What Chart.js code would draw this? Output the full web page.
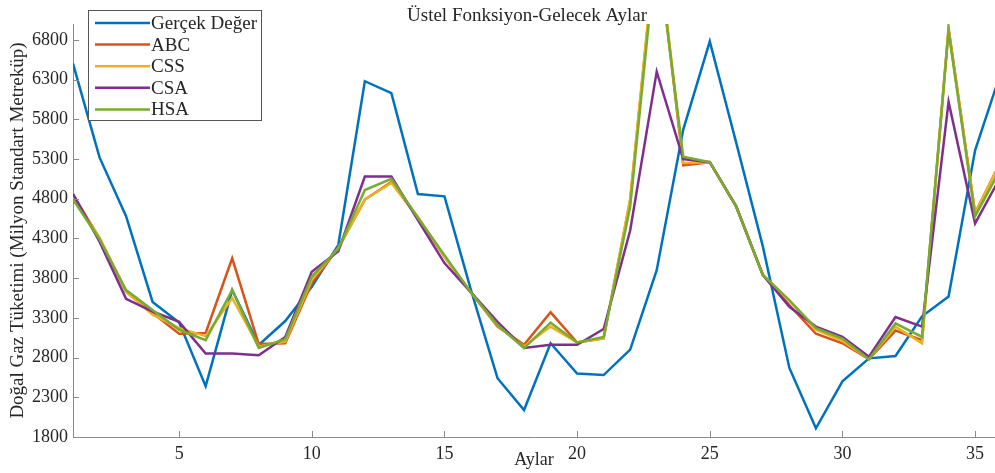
<!DOCTYPE html>
<html>
<head>
<meta charset="utf-8">
<script src="https://cdn.jsdelivr.net/npm/chart.js@4.4.1/dist/chart.umd.min.js"></script>
<style>
html, body { margin: 0; padding: 0; background: #fff; }
#wrap { width: 995px; height: 473px; }
</style>
</head>
<body>
<div id="wrap"><canvas id="gazChart" width="995" height="473"></canvas></div>
<script>
const FONT = '"Liberation Serif", "Times New Roman", serif';
const TEXT = '#262626';
const AXIS = '#8a8a8a';

const months = [1, 2, 3, 4, 5, 6, 7, 8, 9, 10, 11, 12, 13, 14, 15, 16, 17, 18,
                19, 20, 21, 22, 23, 24, 25, 26, 27, 28, 29, 30, 31, 32, 33, 34, 35, 36];

const gercekDeger = [6500, 5320, 4580, 3500, 3240, 2440, 3650, 2960, 3260, 3690, 4220, 6280,
                     6130, 4860, 4830, 3650, 2540, 2140, 2980, 2600, 2580, 2900, 3900, 5670,
                     6780, 5500, 4200, 2670, 1910, 2500, 2790, 2820, 3320, 3570, 5410, 6420];
const abc = [4850, 4300, 3630, 3360, 3100, 3110, 4050, 2970, 2980, 3740, 4180, 4790,
             5010, 4560, 4070, 3620, 3190, 2960, 3370, 2990, 3040, 4780, 8100, 5220,
             5260, 4700, 3840, 3460, 3100, 2980, 2780, 3140, 3020, 6950, 4620, 5290];
const css = [4820, 4310, 3630, 3340, 3170, 3070, 3550, 2940, 3000, 3780, 4180, 4790,
             5000, 4570, 4070, 3620, 3200, 2940, 3190, 2990, 3040, 4800, 8150, 5250,
             5260, 4700, 3840, 3520, 3150, 3010, 2780, 3190, 2980, 6930, 4620, 5290];
const csa = [4860, 4260, 3540, 3380, 3250, 2850, 2850, 2830, 3060, 3880, 4140, 5080,
             5080, 4530, 3990, 3620, 3250, 2920, 2960, 2960, 3160, 4400, 6400, 5300,
             5260, 4700, 3840, 3440, 3190, 3060, 2810, 3310, 3190, 6020, 4490, 5100];
const hsa = [4790, 4290, 3650, 3400, 3150, 3020, 3650, 2920, 3030, 3820, 4170, 4910,
             5050, 4560, 4090, 3620, 3210, 2920, 3240, 2990, 3060, 4700, 8000, 5330,
             5260, 4700, 3840, 3520, 3170, 3040, 2780, 3230, 3060, 6910, 4580, 5200];

const seriesNames = ['Gerçek Değer', 'ABC', 'CSS', 'CSA', 'HSA'];
const seriesColors = ['#0072BD', '#D95319', '#EDB120', '#7E2F8E', '#77AC30'];
const seriesValues = [gercekDeger, abc, css, csa, hsa];

const yTicks = [1800, 2300, 2800, 3300, 3800, 4300, 4800, 5300, 5800, 6300, 6800];
const xTicks = [5, 10, 15, 20, 25, 30, 35];

function toPoints(values) {
    return months.map((m, i) => ({ x: m, y: values[i] }));
}

const datasets = seriesValues.map((vals, i) => ({
    label: seriesNames[i],
    data: toPoints(vals),
    borderColor: seriesColors[i],
    backgroundColor: seriesColors[i],
    borderWidth: 2.5,
    pointRadius: 0,
    tension: 0,
    order: seriesValues.length - i // later series drawn on top
}));

// inward tick marks, title and boxed legend over the plot
const matlabDecor = {
    id: 'matlabDecor',
    afterDraw(chart) {
        const ctx = chart.ctx;
        const { left, bottom } = chart.chartArea;
        const xs = chart.scales.x, ys = chart.scales.y;
        ctx.save();
        ctx.strokeStyle = AXIS;
        ctx.lineWidth = 1;
        ctx.beginPath();
        xs.ticks.forEach(t => {
            const px = Math.round(xs.getPixelForValue(t.value)) + 0.5;
            ctx.moveTo(px, bottom);
            ctx.lineTo(px, bottom - 6);
        });
        ys.ticks.forEach(t => {
            const py = Math.round(ys.getPixelForValue(t.value)) + 0.5;
            ctx.moveTo(left, py);
            ctx.lineTo(left + 6, py);
        });
        ctx.stroke();

        ctx.fillStyle = TEXT;
        ctx.font = '19px ' + FONT;
        ctx.textAlign = 'center';
        ctx.textBaseline = 'alphabetic';
        ctx.fillText('Üstel Fonksiyon-Gelecek Aylar', 527, 21);

        const bx = 88.5, by = 10.5, bw = 173, bh = 110;
        ctx.fillStyle = '#fff';
        ctx.fillRect(bx, by, bw, bh);
        ctx.strokeStyle = '#555';
        ctx.lineWidth = 1;
        ctx.strokeRect(bx, by, bw, bh);
        ctx.font = '19px ' + FONT;
        ctx.textAlign = 'left';
        ctx.textBaseline = 'middle';
        chart.data.datasets.forEach((ds, i) => {
            const y = 23 + i * 21.6;
            ctx.strokeStyle = ds.borderColor;
            ctx.lineWidth = 2.5;
            ctx.beginPath();
            ctx.moveTo(95, y);
            ctx.lineTo(150, y);
            ctx.stroke();
            ctx.fillStyle = TEXT;
            ctx.fillText(ds.label, 151, y + 1);
        });
        ctx.restore();
    }
};

const ctx = document.getElementById('gazChart');
new Chart(ctx, {
    type: 'line',
    data: { datasets: datasets },
    options: {
        responsive: false,
        animation: false,
        devicePixelRatio: 1,
        layout: { padding: { top: 24, right: 0, bottom: 0, left: 0 } },
        plugins: {
            legend: { display: false },
            tooltip: { enabled: false }
        },
        scales: {
            x: {
                type: 'linear',
                min: 1,
                max: 35.75,
                afterBuildTicks: s => { s.ticks = xTicks.map(v => ({ value: v })); },
                afterFit: s => { s.height = 36; },
                grid: { display: false, drawTicks: false },
                border: { display: true, color: AXIS, width: 1 },
                ticks: {
                    padding: 6,
                    color: TEXT,
                    autoSkip: false,
                    maxRotation: 0,
                    font: { family: FONT, size: 18 },
                    callback: v => String(v)
                },
                title: {
                    display: true,
                    text: 'Aylar',
                    color: TEXT,
                    font: { family: FONT, size: 18 },
                    padding: { top: 0, bottom: 2 }
                }
            },
            y: {
                type: 'linear',
                min: 1800,
                max: 7000,
                afterBuildTicks: s => { s.ticks = yTicks.map(v => ({ value: v })); },
                afterFit: s => { s.width = 73; },
                grid: { display: false, drawTicks: false },
                border: { display: true, color: AXIS, width: 1 },
                ticks: {
                    padding: 5,
                    color: TEXT,
                    autoSkip: false,
                    font: { family: FONT, size: 18 },
                    callback: v => String(v)
                },
                title: {
                    display: true,
                    text: 'Doğal Gaz Tüketimi (Milyon Standart Metreküp)',
                    color: TEXT,
                    font: { family: FONT, size: 19 },
                    padding: { top: 7, bottom: 0 }
                }
            }
        }
    },
    plugins: [matlabDecor]
});
</script>
</body>
</html>
